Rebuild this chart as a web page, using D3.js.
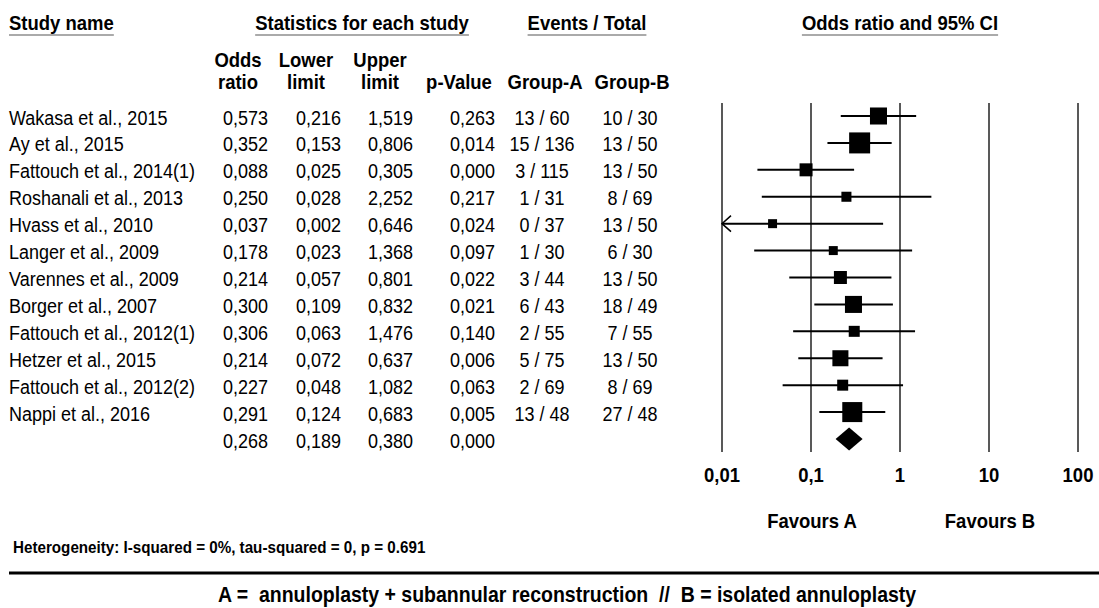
<!DOCTYPE html>
<html>
<head>
<meta charset="utf-8">
<title>Forest plot</title>
<style>
  body { margin: 0; background: #fff; }
  svg text { font-family: "Liberation Sans", Arial, sans-serif; fill: #000; white-space: pre; }
  .hd { font-weight: bold; font-size: 18.5px; }
  .cell { font-size: 18px; }
</style>
<script src="https://cdn.jsdelivr.net/npm/d3@7"></script>
</head>
<body>
<script>
// data
var studies = ["Wakasa et al., 2015", "Ay et al., 2015", "Fattouch et al., 2014(1)", "Roshanali et al., 2013",
  "Hvass et al., 2010", "Langer et al., 2009", "Varennes et al., 2009", "Borger et al., 2007",
  "Fattouch et al., 2012(1)", "Hetzer et al., 2015", "Fattouch et al., 2012(2)", "Nappi et al., 2016"];
var oddsRatio  = [0.573, 0.352, 0.088, 0.250, 0.037, 0.178, 0.214, 0.300, 0.306, 0.214, 0.227, 0.291];
var lowerLimit = [0.216, 0.153, 0.025, 0.028, 0.002, 0.023, 0.057, 0.109, 0.063, 0.072, 0.048, 0.124];
var upperLimit = [1.519, 0.806, 0.305, 2.252, 0.646, 1.368, 0.801, 0.832, 1.476, 0.637, 1.082, 0.683];
var pValue     = [0.263, 0.014, 0.000, 0.217, 0.024, 0.097, 0.022, 0.021, 0.140, 0.006, 0.063, 0.005];
var eventsA = [13, 15, 3, 1, 0, 1, 3, 6, 2, 5, 2, 13];
var totalA  = [60, 136, 115, 31, 37, 30, 44, 43, 55, 75, 69, 48];
var eventsB = [10, 13, 13, 8, 13, 6, 13, 18, 7, 13, 8, 27];
var totalB  = [30, 50, 50, 69, 50, 30, 50, 49, 55, 50, 69, 48];
var weights = [11.5, 17.5, 6.7, 4.0, 3.2, 3.2, 6.7, 11.5, 4.8, 10.2, 4.8, 15.9];
var pooled = {or: 0.268, lower: 0.189, upper: 0.380, p: 0.000};
var tickValues = [0.01, 0.1, 1, 10, 100];
var tickLabels = ["0,01", "0,1", "1", "10", "100"];

var W = 1099, H = 608;
var SY = 1.12; // text in the original is a bit taller than wide
var svg = d3.select("body").append("svg").attr("width", W).attr("height", H);

var loc = d3.formatLocale({decimal: ",", thousands: ".", grouping: [3], currency: ["", ""]});
var f3 = loc.format(".3f");

// text helper: places text at (x,y) stretched vertically
function label(parent, cls, tx, ty, anchor, str) {
  return parent.append("text").attr("class", cls)
    .attr("transform", "translate(" + tx + "," + ty + ") scale(1," + SY + ")")
    .attr("text-anchor", anchor).text(str);
}

var nRows = studies.length + 1;
var y = d3.scalePoint().domain(d3.range(nRows)).range([116, 439]);
var x = d3.scaleLog().domain([0.01, 100]).range([722, 1078]);
var size = d3.scaleSqrt().domain([0, d3.max(weights)]).range([0, 21]);

// headers with underline
var headers = [
  {t: "Study name", x: 9, anchor: "start"},
  {t: "Statistics for each study", x: 362, anchor: "middle"},
  {t: "Events / Total", x: 587, anchor: "middle"},
  {t: "Odds ratio and 95% CI", x: 900, anchor: "middle"}
];
headers.forEach(function(h) {
  var t = label(svg, "hd", h.x, 30, h.anchor, h.t);
  var bb = t.node().getBBox();
  svg.append("line").attr("x1", h.x + bb.x).attr("x2", h.x + bb.x + bb.width)
    .attr("y1", 35).attr("y2", 35).attr("stroke", "#aaa").attr("stroke-width", 2);
});

var subHeads = [
  {l1: "Odds", l2: "ratio", x: 238},
  {l1: "Lower", l2: "limit", x: 306},
  {l1: "Upper", l2: "limit", x: 380},
  {l1: "", l2: "p-Value", x: 459},
  {l1: "", l2: "Group-A", x: 545},
  {l1: "", l2: "Group-B", x: 632}
];
subHeads.forEach(function(h) {
  label(svg, "hd", h.x, 67, "middle", h.l1);
  label(svg, "hd", h.x, 89, "middle", h.l2);
});

// table rows
var rows = studies.map(function(s, i) {
  return {name: s, or: oddsRatio[i], lo: lowerLimit[i], hi: upperLimit[i], p: pValue[i],
    a: eventsA[i] + " / " + totalA[i], b: eventsB[i] + " / " + totalB[i], w: weights[i]};
});
var allRows = rows.concat([{name: "", or: pooled.or, lo: pooled.lower, hi: pooled.upper, p: pooled.p, a: "", b: ""}]);

var cols = [
  {key: "name", x: 9, anchor: "start", fmt: String},
  {key: "or", x: 268, anchor: "end", fmt: f3},
  {key: "lo", x: 341, anchor: "end", fmt: f3},
  {key: "hi", x: 413, anchor: "end", fmt: f3},
  {key: "p", x: 495, anchor: "end", fmt: f3},
  {key: "a", x: 542, anchor: "middle", fmt: String},
  {key: "b", x: 630, anchor: "middle", fmt: String}
];
var rowG = svg.selectAll("g.row").data(allRows).enter().append("g").attr("class", "row")
  .attr("transform", function(d, i) { return "translate(0," + (y(i) + 8.5) + ")"; });
cols.forEach(function(c) {
  rowG.append("text").attr("class", "cell")
    .attr("transform", "translate(" + c.x + ",0) scale(1," + SY + ")")
    .attr("text-anchor", c.anchor).text(function(d) { return c.fmt(d[c.key]); });
});

// vertical reference lines
svg.selectAll("line.grid").data(tickValues).enter().append("line").attr("class", "grid")
  .attr("x1", function(d) { return x(d); }).attr("x2", function(d) { return x(d); })
  .attr("y1", 103).attr("y2", 452).attr("stroke", "#222").attr("stroke-width", 1.5);

tickValues.forEach(function(v, i) {
  label(svg, "hd", x(v), 482, "middle", tickLabels[i]);
});

// CI lines and squares
var minX = x.domain()[0];
var plot = svg.selectAll("g.study").data(rows).enter().append("g").attr("class", "study")
  .attr("transform", function(d, i) { return "translate(0," + y(i) + ")"; });
plot.append("line")
  .attr("x1", function(d) { return x(Math.max(d.lo, minX)); })
  .attr("x2", function(d) { return x(d.hi); })
  .attr("stroke", "#000").attr("stroke-width", 2);
plot.filter(function(d) { return d.lo < minX; }).append("path")
  .attr("d", function() { var x0 = x(minX); return "M" + (x0 + 9) + ",-8L" + x0 + ",0L" + (x0 + 9) + ",8"; })
  .attr("fill", "none").attr("stroke", "#000").attr("stroke-width", 1.5);
plot.append("rect")
  .attr("x", function(d) { return x(d.or) - size(d.w) / 2; })
  .attr("y", function(d) { return -size(d.w) / 2; })
  .attr("width", function(d) { return size(d.w); })
  .attr("height", function(d) { return size(d.w); })
  .attr("fill", "#000");

// pooled diamond
var yd = y(nRows - 1);
svg.append("path")
  .attr("d", "M" + x(pooled.lower) + "," + yd + "L" + x(pooled.or) + "," + (yd - 11.5) +
    "L" + x(pooled.upper) + "," + yd + "L" + x(pooled.or) + "," + (yd + 11.5) + "Z")
  .attr("fill", "#000");

label(svg, "hd", 812, 528, "middle", "Favours A");
label(svg, "hd", 990, 528, "middle", "Favours B");

label(svg, "het", 13, 553, "start", "Heterogeneity: I-squared = 0%, tau-squared = 0, p = 0.691")
  .style("font-weight", "bold").style("font-size", "15.2px");

svg.append("line").attr("x1", 9).attr("x2", W).attr("y1", 573).attr("y2", 573)
  .attr("stroke", "#000").attr("stroke-width", 3);

label(svg, "hd", 218, 602, "start", "A =  annuloplasty + subannular reconstruction  //  B = isolated annuloplasty")
  .style("font-size", "19.5px");
</script>
</body>
</html>
